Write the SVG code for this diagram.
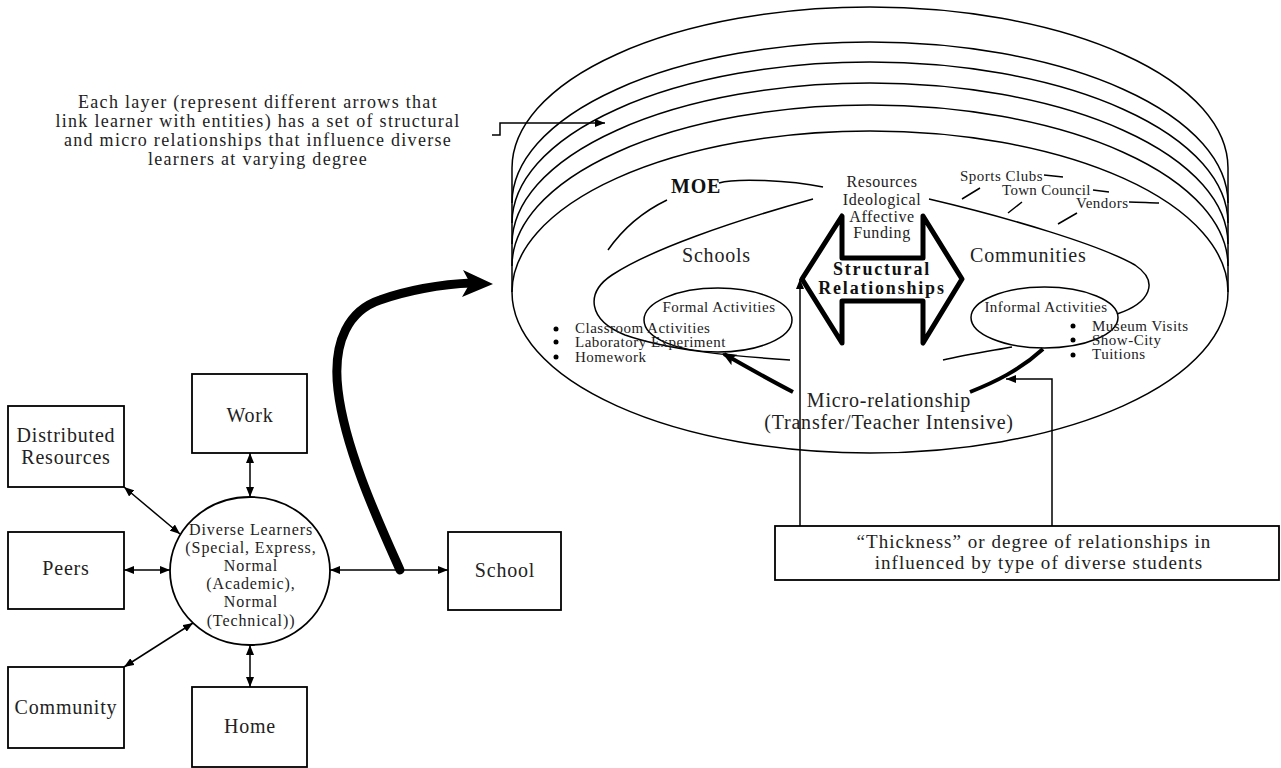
<svg xmlns="http://www.w3.org/2000/svg" width="1281" height="768" viewBox="0 0 1281 768">
<style>
text{font-family:"Liberation Serif","Times New Roman",serif;fill:#222}
.t17{font-size:18px;letter-spacing:1.3px}
.t18{font-size:19px;letter-spacing:1.05px}
.node{font-size:20px;letter-spacing:0.8px}
.lbl{font-size:20px;letter-spacing:0.8px}
.res{font-size:16px;letter-spacing:0.6px}
.sm{font-size:15px;letter-spacing:0.5px}
.cl{font-size:15px;letter-spacing:0.3px}
.dl{font-size:16px;letter-spacing:0.9px}
.b20{font-size:20px;font-weight:bold;letter-spacing:0.8px;fill:#111}
.b18{font-size:18px;font-weight:bold;letter-spacing:1.8px;fill:#111}
.mid{text-anchor:middle}
.ln{fill:none;stroke:#000;stroke-width:1.5}
.box{fill:#fff;stroke:#000;stroke-width:1.8}
.con{fill:none;stroke:#000;stroke-width:1.5}
.dot{fill:#000}
</style>
<defs>
<marker id="ah" viewBox="0 0 10 8" refX="10" refY="4" markerWidth="10" markerHeight="8" markerUnits="userSpaceOnUse" orient="auto-start-reverse"><path d="M0,0 L10,4 L0,8 z" fill="#000"/></marker>
<marker id="ahb" viewBox="0 0 14 12" refX="12" refY="6" markerWidth="14" markerHeight="12" markerUnits="userSpaceOnUse" orient="auto"><path d="M0,0 L14,6 L0,12 L3,6 z" fill="#000"/></marker>
</defs>

<g id="note-layers">
<text class="t17 mid" x="258" y="108">Each layer (represent different arrows that</text>
<text class="t17 mid" x="258" y="127">link learner with entities) has a set of structural</text>
<text class="t17 mid" x="258" y="146">and micro relationships that influence diverse</text>
<text class="t17 mid" x="258" y="165">learners at varying degree</text>
</g>

<g id="cylinder">
<path class="ln" d="M512,168 A358,161 0 0 1 1228,168"/>
<path class="ln" d="M512,203 A358,161 0 0 1 1228,203"/>
<path class="ln" d="M512,223 A358,161 0 0 1 1228,223"/>
<path class="ln" d="M512,244 A358,161 0 0 1 1228,244"/>
<path class="ln" d="M512,266 A358,161 0 0 1 1228,266"/>
<path class="ln" d="M512,168 V292 M1228,168 V292"/>
<ellipse class="ln" cx="870" cy="292" rx="358" ry="161"/>
</g>

<g id="moe">
<text class="b20" x="671" y="193">MOE</text>
<path class="ln" d="M719,183 C735,178 790,180 823,187"/>
<path class="ln" d="M608,250 C622,230 642,212 667,200"/>
</g>

<g id="resources">
<text class="res mid" x="882" y="187">Resources</text>
<text class="res mid" x="882" y="205">Ideological</text>
<text class="res mid" x="882" y="222">Affective</text>
<text class="res mid" x="882" y="238">Funding</text>
</g>

<g id="schools">
<path class="ln" d="M813,199 C730,222 650,250 612,275 C585,293 588,320 625,335 C668,350 730,356 790,360"/>
<text class="lbl" x="682" y="262">Schools</text>
</g>

<g id="communities">
<path class="ln" d="M929,199 C1010,218 1100,245 1135,265 C1160,282 1150,303 1117,314"/>
<path class="ln" d="M943,360 C965,355 990,351 1012,347"/>
<text class="lbl" x="970" y="262">Communities</text>
</g>

<g id="community-entities">
<text class="sm" x="960" y="181">Sports Clubs</text>
<text class="cl" x="1002" y="195">Town Council</text>
<text class="sm" x="1076" y="208">Vendors</text>
<path class="ln" d="M1044,175 L1063,177 M1093,190 L1109,192 M1129,202 C1140,202 1150,203 1159,203"/>
<path class="ln" d="M980,188 L962,199 M1022,202 L1008,213 M1077,213 L1058,224"/>
</g>

<g id="structural">
<polygon points="802,279 842,216 842,258 923,258 923,216 962,279 923,343 923,301 842,301 842,343" fill="#fff" stroke="#000" stroke-width="5" stroke-linejoin="round"/>
<text class="b18 mid" x="882" y="275">Structural</text>
<text class="b18 mid" x="882" y="294">Relationships</text>
</g>

<g id="formal">
<ellipse class="ln" cx="718" cy="320" rx="74" ry="32"/>
<text class="sm mid" x="719" y="312">Formal Activities</text>
<circle class="dot" cx="556" cy="329" r="2.5"/>
<circle class="dot" cx="556" cy="342" r="2.5"/>
<circle class="dot" cx="556" cy="357" r="2.5"/>
<text class="sm" x="575" y="333">Classroom Activities</text>
<text class="sm" x="575" y="347">Laboratory Experiment</text>
<text class="sm" x="575" y="362">Homework</text>
</g>

<g id="informal">
<ellipse class="ln" cx="1044.5" cy="317.5" rx="73.5" ry="30.5"/>
<text class="sm mid" x="1046" y="312">Informal Activities</text>
<circle class="dot" cx="1073" cy="326" r="2.5"/>
<circle class="dot" cx="1073" cy="340" r="2.5"/>
<circle class="dot" cx="1073" cy="355" r="2.5"/>
<text class="sm" x="1092" y="331">Museum Visits</text>
<text class="sm" x="1092" y="345">Show-City</text>
<text class="sm" x="1092" y="359">Tuitions</text>
</g>

<g id="micro">
<text class="node mid" x="889" y="407">Micro-relationship</text>
<text class="node mid" x="889" y="429">(Transfer/Teacher Intensive)</text>
</g>

<g id="thickness-note">
<rect class="box" x="775" y="526" width="504" height="54"/>
<text class="t18 mid" x="1034" y="548">“Thickness” or degree of relationships in</text>
<text class="t18 mid" x="1039" y="569">influenced by type of diverse students</text>
</g>

<g id="distributed-resources">
<rect class="box" x="8" y="406" width="116" height="81"/>
<text class="node mid" x="66" y="442">Distributed</text>
<text class="node mid" x="66" y="464">Resources</text>
</g>
<g id="work">
<rect class="box" x="192" y="374" width="115" height="79"/>
<text class="node mid" x="250" y="422">Work</text>
</g>
<g id="peers">
<rect class="box" x="8" y="532" width="116" height="77"/>
<text class="node mid" x="66" y="575">Peers</text>
</g>
<g id="community">
<rect class="box" x="8" y="667" width="116" height="81"/>
<text class="node mid" x="66" y="714">Community</text>
</g>
<g id="home">
<rect class="box" x="192" y="687" width="115" height="80"/>
<text class="node mid" x="250" y="733">Home</text>
</g>
<g id="school">
<rect class="box" x="448" y="532" width="113" height="78"/>
<text class="node mid" x="505" y="577">School</text>
</g>
<g id="diverse-learners">
<ellipse class="box" cx="250" cy="571" rx="80" ry="74"/>
<text class="dl mid" x="251" y="535">Diverse Learners</text>
<text class="dl mid" x="251" y="553">(Special, Express,</text>
<text class="dl mid" x="251" y="571">Normal</text>
<text class="dl mid" x="251" y="589">(Academic),</text>
<text class="dl mid" x="251" y="607">Normal</text>
<text class="dl mid" x="251" y="626">(Technical))</text>
</g>

<g id="connectors">
<path class="con" d="M492,135 H500 V123 H605" marker-end="url(#ah)"/>
<line class="con" x1="250" y1="453" x2="250" y2="497" marker-start="url(#ah)" marker-end="url(#ah)"/>
<line class="con" x1="250" y1="645" x2="250" y2="687" marker-start="url(#ah)" marker-end="url(#ah)"/>
<line class="con" x1="124" y1="487" x2="180" y2="534" marker-start="url(#ah)" marker-end="url(#ah)"/>
<line class="con" x1="124" y1="570" x2="170" y2="570" marker-start="url(#ah)" marker-end="url(#ah)"/>
<line class="con" x1="124" y1="667" x2="193" y2="623" marker-start="url(#ah)" marker-end="url(#ah)"/>
<line class="con" x1="330" y1="570" x2="448" y2="570" marker-start="url(#ah)" marker-end="url(#ah)"/>
<path d="M400,570 C380,525 345,450 338,390 C332,340 350,310 380,300 C405,291 440,284 472,283" fill="none" stroke="#000" stroke-width="9" stroke-linecap="round"/>
<polygon points="493,284 463,270 470,283 462,297" fill="#000"/>
<path d="M793,392 C768,379 745,366 724,354" fill="none" stroke="#000" stroke-width="4" marker-end="url(#ahb)"/>
<path d="M970,392 C995,382 1020,370 1043,349" fill="none" stroke="#000" stroke-width="4"/>
<path class="con" d="M800,526 V279" marker-end="url(#ah)"/>
<path class="con" d="M1052,526 V379 H1006" marker-end="url(#ah)"/>
</g>
</svg>
